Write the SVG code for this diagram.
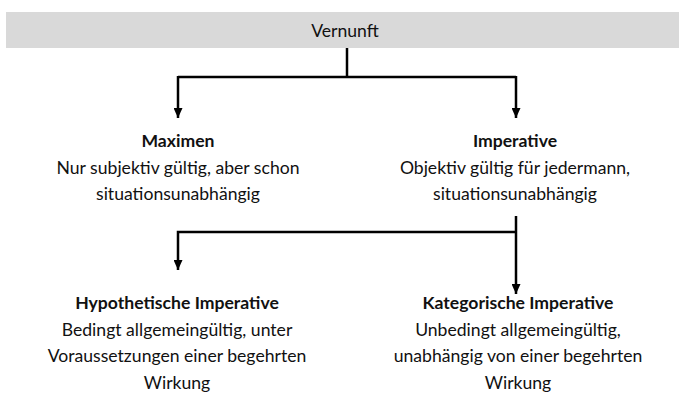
<svg xmlns="http://www.w3.org/2000/svg" width="679" height="405" viewBox="0 0 679 405">
<style>
text{font-family:Lato,"Open Sans",sans-serif;font-size:17.6px;fill:#111;text-anchor:middle}
.b{font-weight:bold}
.c{fill:none;stroke:#000;stroke-width:2.5}
</style>
<defs>
<marker id="ah" markerWidth="10" markerHeight="9" refX="10" refY="4.5" orient="auto" markerUnits="userSpaceOnUse" viewBox="0 0 10 9">
<path d="M0,0 L10,4.5 L0,9 Z" fill="#000"/>
</marker>
</defs>
<rect width="679" height="405" fill="#fff"/>
<g id="vernunft">
<rect x="6" y="12" width="673" height="36" fill="#d9d9d9"/>
<text x="345" y="37">Vernunft</text>
</g>
<g id="connectors">
<path class="c" d="M347,48 V77"/>
<path class="c" d="M178,77 H516"/>
<path class="c" d="M516,76 V118" marker-end="url(#ah)"/>
<path class="c" d="M178,76 V118" marker-end="url(#ah)"/>
<path class="c" d="M516,216 V294" marker-end="url(#ah)"/>
<path class="c" d="M516,232 H178 V270" marker-end="url(#ah)"/>
</g>
<g id="maximen">
<text class="b" x="178" y="147">Maximen</text>
<text x="178" y="174">Nur subjektiv gültig, aber schon</text>
<text x="178" y="200">situationsunabhängig</text>
</g>
<g id="imperative">
<text class="b" x="515" y="147">Imperative</text>
<text x="515" y="174">Objektiv gültig für jedermann,</text>
<text x="515" y="200">situationsunabhängig</text>
</g>
<g id="hypothetisch">
<text class="b" x="177" y="309">Hypothetische Imperative</text>
<text x="177" y="336">Bedingt allgemeingültig, unter</text>
<text x="177" y="362">Voraussetzungen einer begehrten</text>
<text x="177" y="389">Wirkung</text>
</g>
<g id="kategorisch">
<text class="b" x="518" y="309">Kategorische Imperative</text>
<text x="518" y="336">Unbedingt allgemeingültig,</text>
<text x="518" y="362">unabhängig von einer begehrten</text>
<text x="518" y="389">Wirkung</text>
</g>
</svg>
